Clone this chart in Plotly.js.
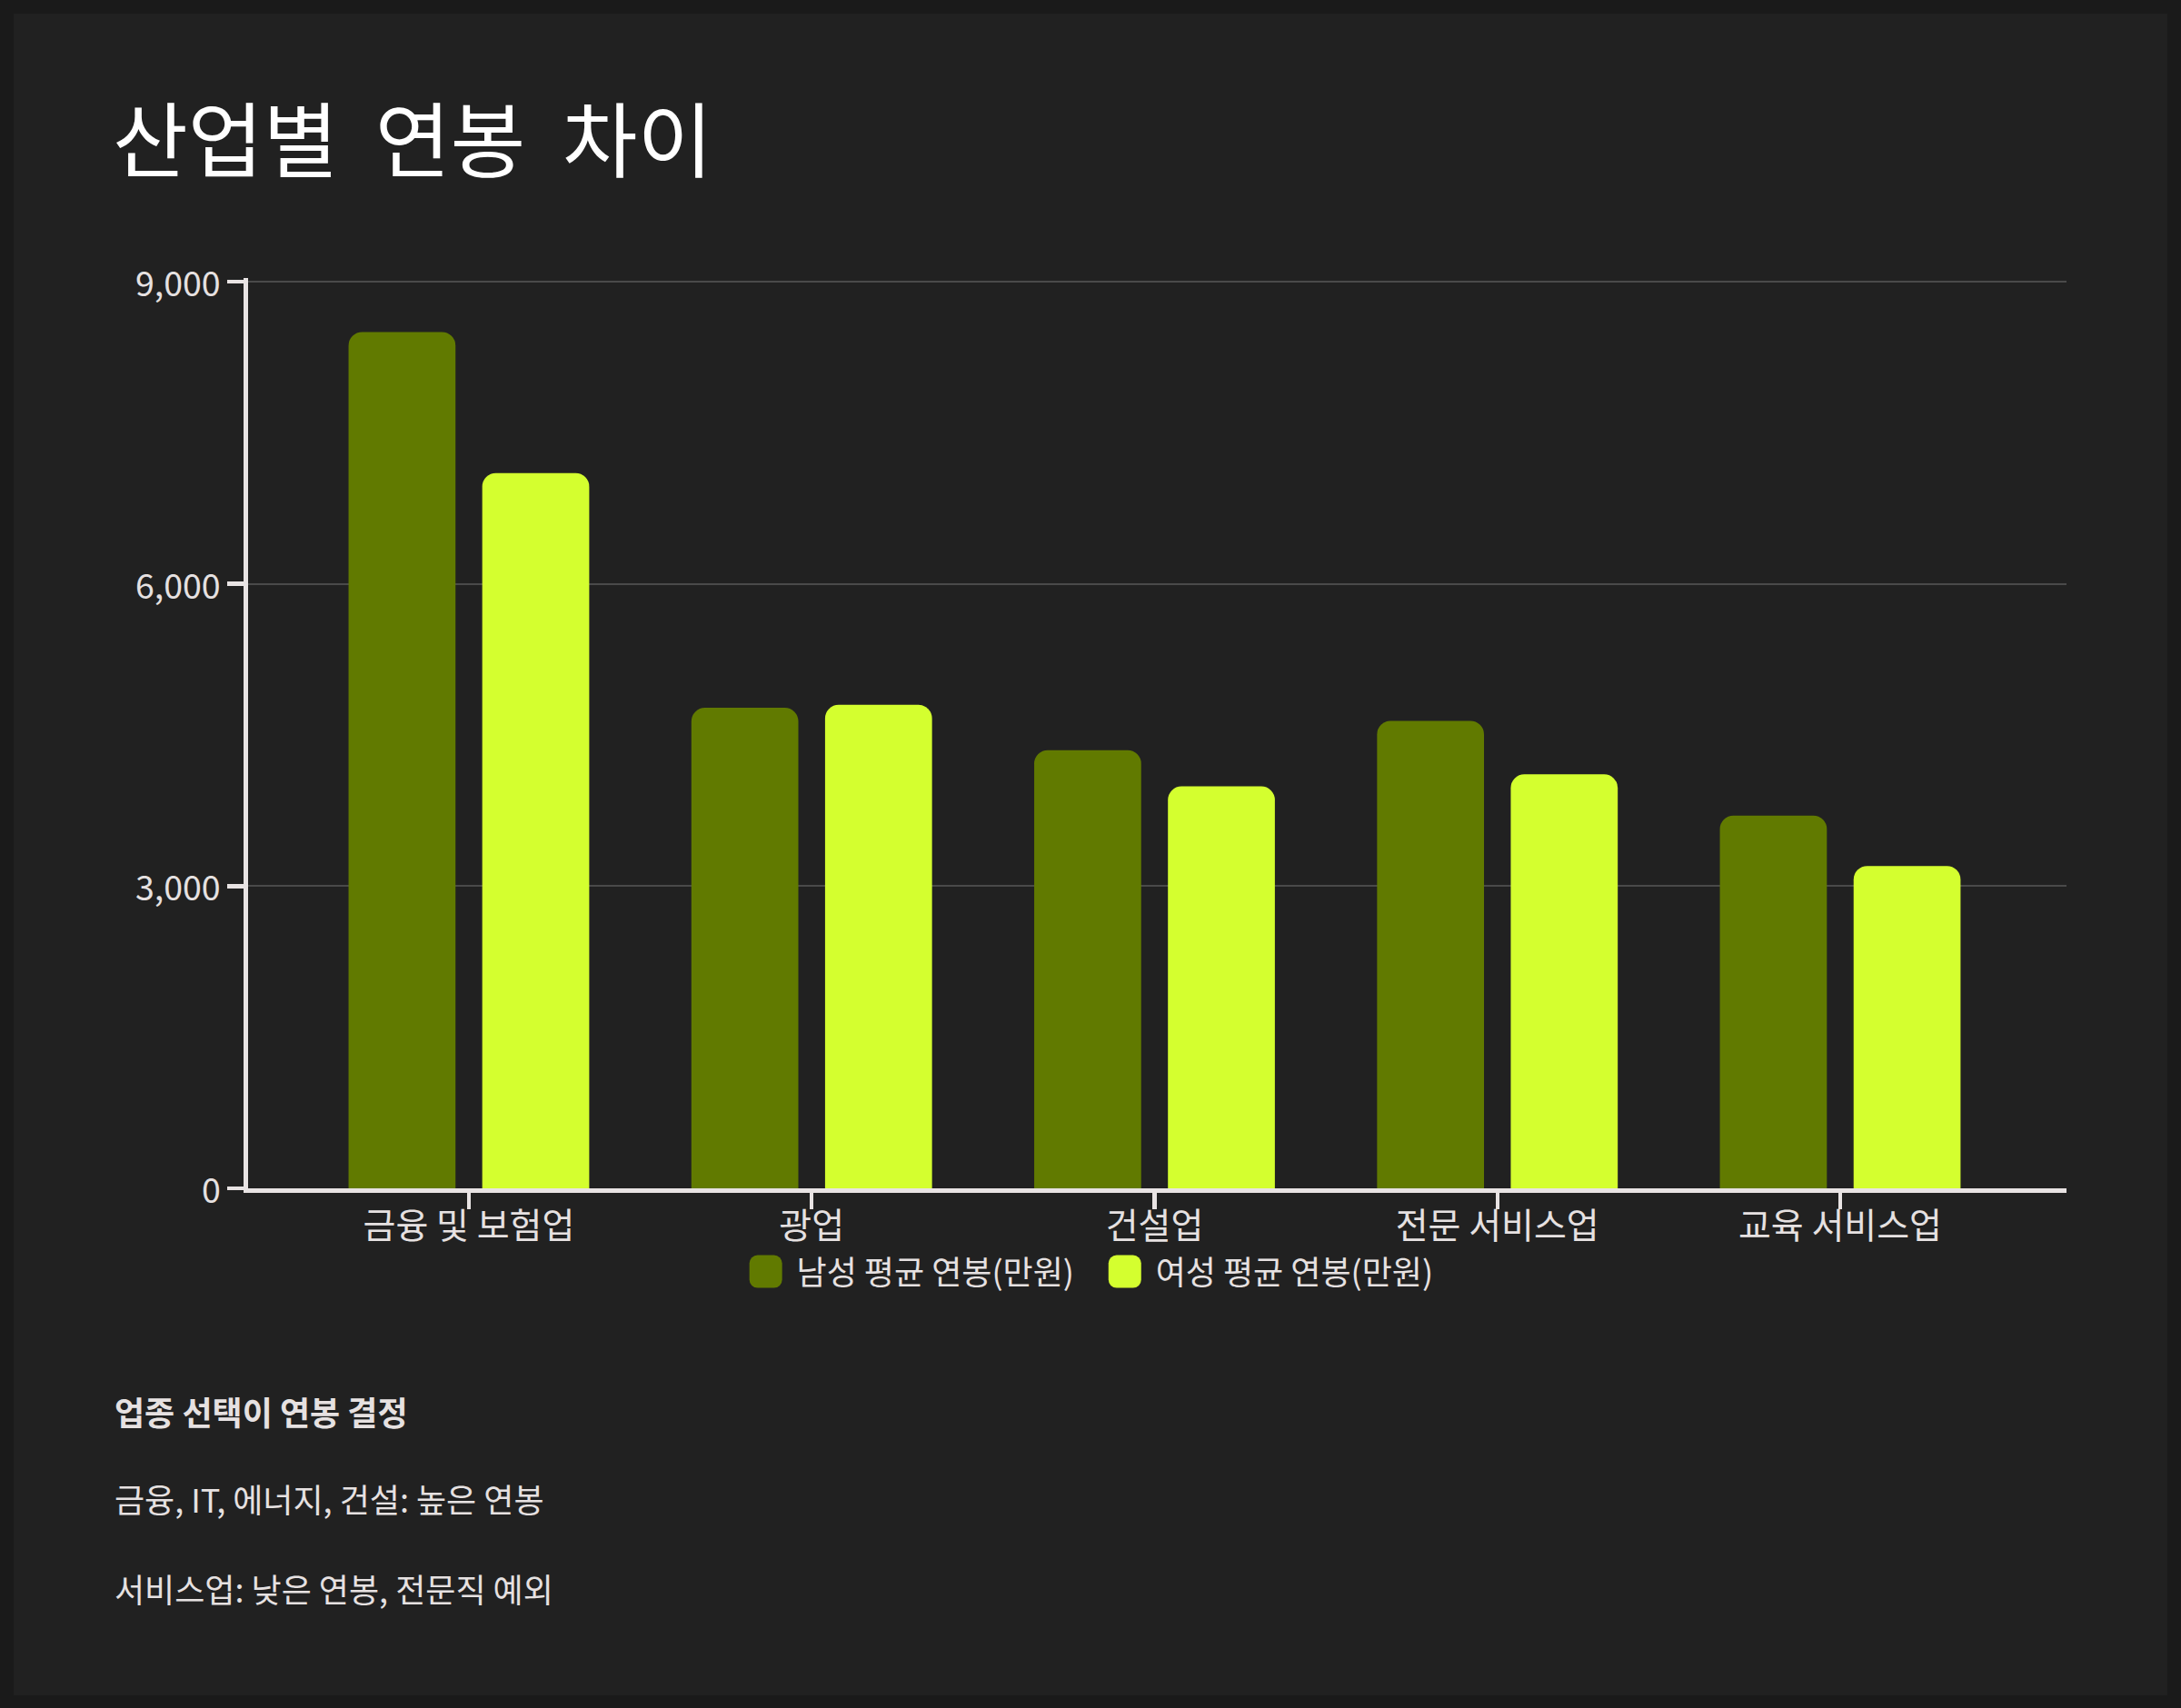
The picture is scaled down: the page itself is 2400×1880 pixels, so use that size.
<!DOCTYPE html>
<html><head><meta charset="utf-8">
<script src="https://cdn.plot.ly/plotly-3.0.1.min.js"></script>
<style>
html,body{margin:0;padding:0;background:#1a1a1a;width:2400px;height:1880px;overflow:hidden;}
#wrap{position:absolute;left:15px;top:15px;width:790px;height:616.667px;transform:scale(3);transform-origin:0 0;background:#212121;}
#chart{width:790px;height:616.667px;}
#chart text{white-space:pre;}
#chart .legend .scrollbox{clip-path:none !important;}
#chart .legend .legendtext{transform:translateX(-8.7px);}
</style></head><body>
<div id="wrap"><div id="chart"></div></div>
<script>
const categories = ['금융 및 보험업', '광업', '건설업', '전문 서비스업', '교육 서비스업'];
const maleSalary = [8500, 4770, 4350, 4640, 3700];
const femaleSalary = [7100, 4800, 3990, 4110, 3200];
const seriesNames = ['남성 평균 연봉(만원)', '여성 평균 연봉(만원)'];
const yTickValues = [0, 3000, 6000, 9000];
const titleText = '산업별  연봉  차이';
const noteLines = ['<b>업종 선택이 연봉 결정</b>', '금융, IT, 에너지, 건설: 높은 연봉', '서비스업: 낮은 연봉, 전문직 예외'];

const FONT = 'Noto Sans CJK KR, Noto Sans, sans-serif';
const TXT = '#E6E1E1';
const AX = '#E8E3E3';

const traces = [
  {type: 'bar', name: seriesNames[0], x: categories, y: maleSalary,
   marker: {color: '#617A00', cornerradius: 5, line: {width: 0}}, hoverinfo: 'skip'},
  {type: 'bar', name: seriesNames[1], x: categories, y: femaleSalary,
   marker: {color: '#D4FF2F', cornerradius: 5, line: {width: 0}}, hoverinfo: 'skip'}
];

const noteY = [-0.2432, -0.3404, -0.4383];
const annotations = noteLines.map((t, i) => ({
  text: t, xref: 'paper', yref: 'paper', x: -0.0769, y: noteY[i],
  xanchor: 'left', yanchor: 'middle', showarrow: false, align: 'left',
  font: {family: FONT, size: 12, color: TXT}
}));

const layout = {
  width: 790, height: 616.667,
  paper_bgcolor: '#212121', plot_bgcolor: '#212121',
  margin: {l: 86.1, r: 37, t: 97.4, b: 186.33, pad: 0},
  font: {family: FONT, color: TXT, size: 12},
  title: {text: titleText, font: {family: FONT, size: 30, color: '#FFFFFF'},
          x: 0.046, xref: 'container', xanchor: 'left',
          y: 0.9233, yref: 'container', yanchor: 'middle'},
  barmode: 'group', bargap: 0.22, bargroupgap: 0.2,
  xaxis: {type: 'category', range: [-0.644, 4.66], showline: true, linecolor: AX, linewidth: 1.6,
          ticks: 'outside', ticklen: 6, tickwidth: 1.5, tickcolor: AX, showgrid: false,
          ticklabelstandoff: -5,
          tickfont: {family: FONT, size: 13, color: TXT}, fixedrange: true},
  yaxis: {range: [0, 9036], tickvals: yTickValues, tickformat: ',', showline: true, linecolor: AX, linewidth: 1.6,
          ticks: 'outside', ticklen: 6, tickwidth: 1.6, tickcolor: AX,
          ticklabelshift: 1,
          showgrid: true, gridcolor: '#4a4a4a', gridwidth: 0.7, zeroline: false,
          tickfont: {family: FONT, size: 12.5, color: TXT}, fixedrange: true},
  legend: {orientation: 'h', xref: 'container', x: 0.491, xanchor: 'center',
           yref: 'container', y: 0.2516, yanchor: 'middle', entrywidth: 86.7,
           bgcolor: 'rgba(0,0,0,0)', font: {family: FONT, size: 12, color: TXT}},
  annotations: annotations,
  showlegend: true
};

Plotly.newPlot('chart', traces, layout, {staticPlot: true, displayModeBar: false, responsive: false});
</script>
</body></html>
